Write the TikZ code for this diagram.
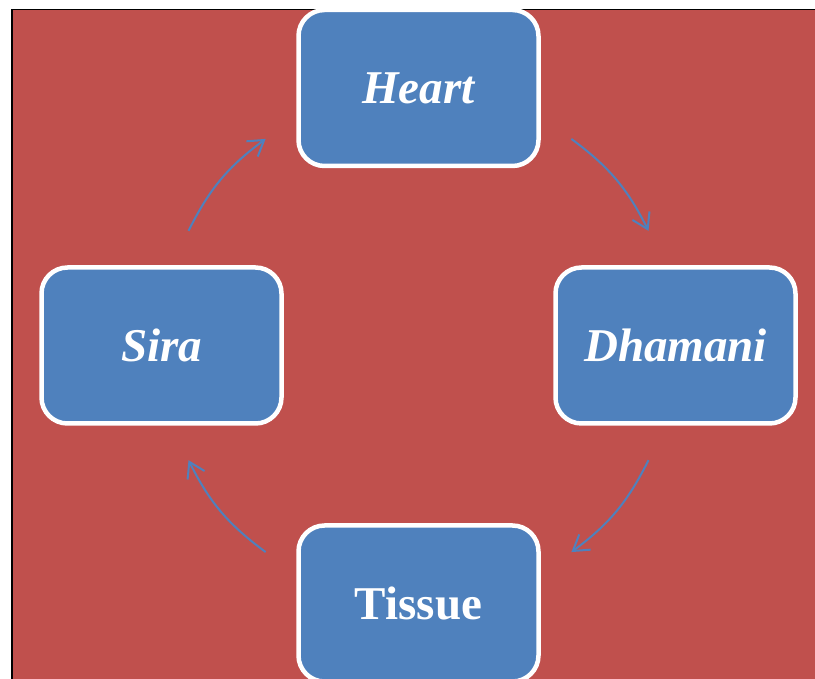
\documentclass[tikz,border=0pt]{standalone}
\usepackage{fontspec}
\setmainfont{Liberation Serif}
\usepackage{tikz}
\usetikzlibrary{calc,arrows.meta}
\definecolor{bgred}{RGB}{192,80,77}
\definecolor{boxblue}{RGB}{79,129,189}

\begin{document}
\begin{tikzpicture}[x=1pt,y=1pt,
        organ/.style={draw=white, line width=4.5pt, fill=boxblue, rounded corners=26pt,
            minimum width=240pt, minimum height=156pt, inner sep=0pt, text=white,
            font=\fontsize{47}{50}\selectfont\bfseries},
        flow/.style={draw=boxblue, line width=2pt,
            -{Straight Barb[length=15pt,width=19pt]}}]
            \useasboundingbox (0,0) rectangle (815,679);
            \fill[bgred] (12,0) rectangle (815,669.5);
            \draw[black, line width=1.5pt] (12,0) -- (12,669.5) -- (815,669.5);
            \coordinate (hub) at (418.5,333.5);
            % the four boxes
            \node[organ] (heart) at ($(hub)+(0,257.5)$) {\itshape Heart};
            \node[organ] (dhamani) at ($(hub)+(257,0)$) {\itshape Dhamani};
            \node[organ] (tissue) at ($(hub)+(0,-258)$) {Tissue};
            \node[organ] (sira) at ($(hub)+(-257,0)$) {\itshape Sira};
            % ends of the arrows, on a circle round the hub
            \coordinate (hd1) at ($(hub)+(53.5:257)$);
            \coordinate (hd2) at ($(hub)+(26.5:257)$);
            \coordinate (dt1) at ($(hub)+(-26.5:257)$);
            \coordinate (dt2) at ($(hub)+(-53.5:257)$);
            \coordinate (ts1) at ($(hub)+(-126.5:257)$);
            \coordinate (ts2) at ($(hub)+(-153.5:257)$);
            \coordinate (sh1) at ($(hub)+(153.5:257)$);
            \coordinate (sh2) at ($(hub)+(126.5:257)$);
            \draw[flow] (hd1) to[bend left=13.5] (hd2);
            \draw[flow] (dt1) to[bend left=13.5] (dt2);
            \draw[flow] (ts1) to[bend left=13.5] (ts2);
            \draw[flow] (sh1) to[bend left=13.5] (sh2);
        \end{tikzpicture}
\end{document}
